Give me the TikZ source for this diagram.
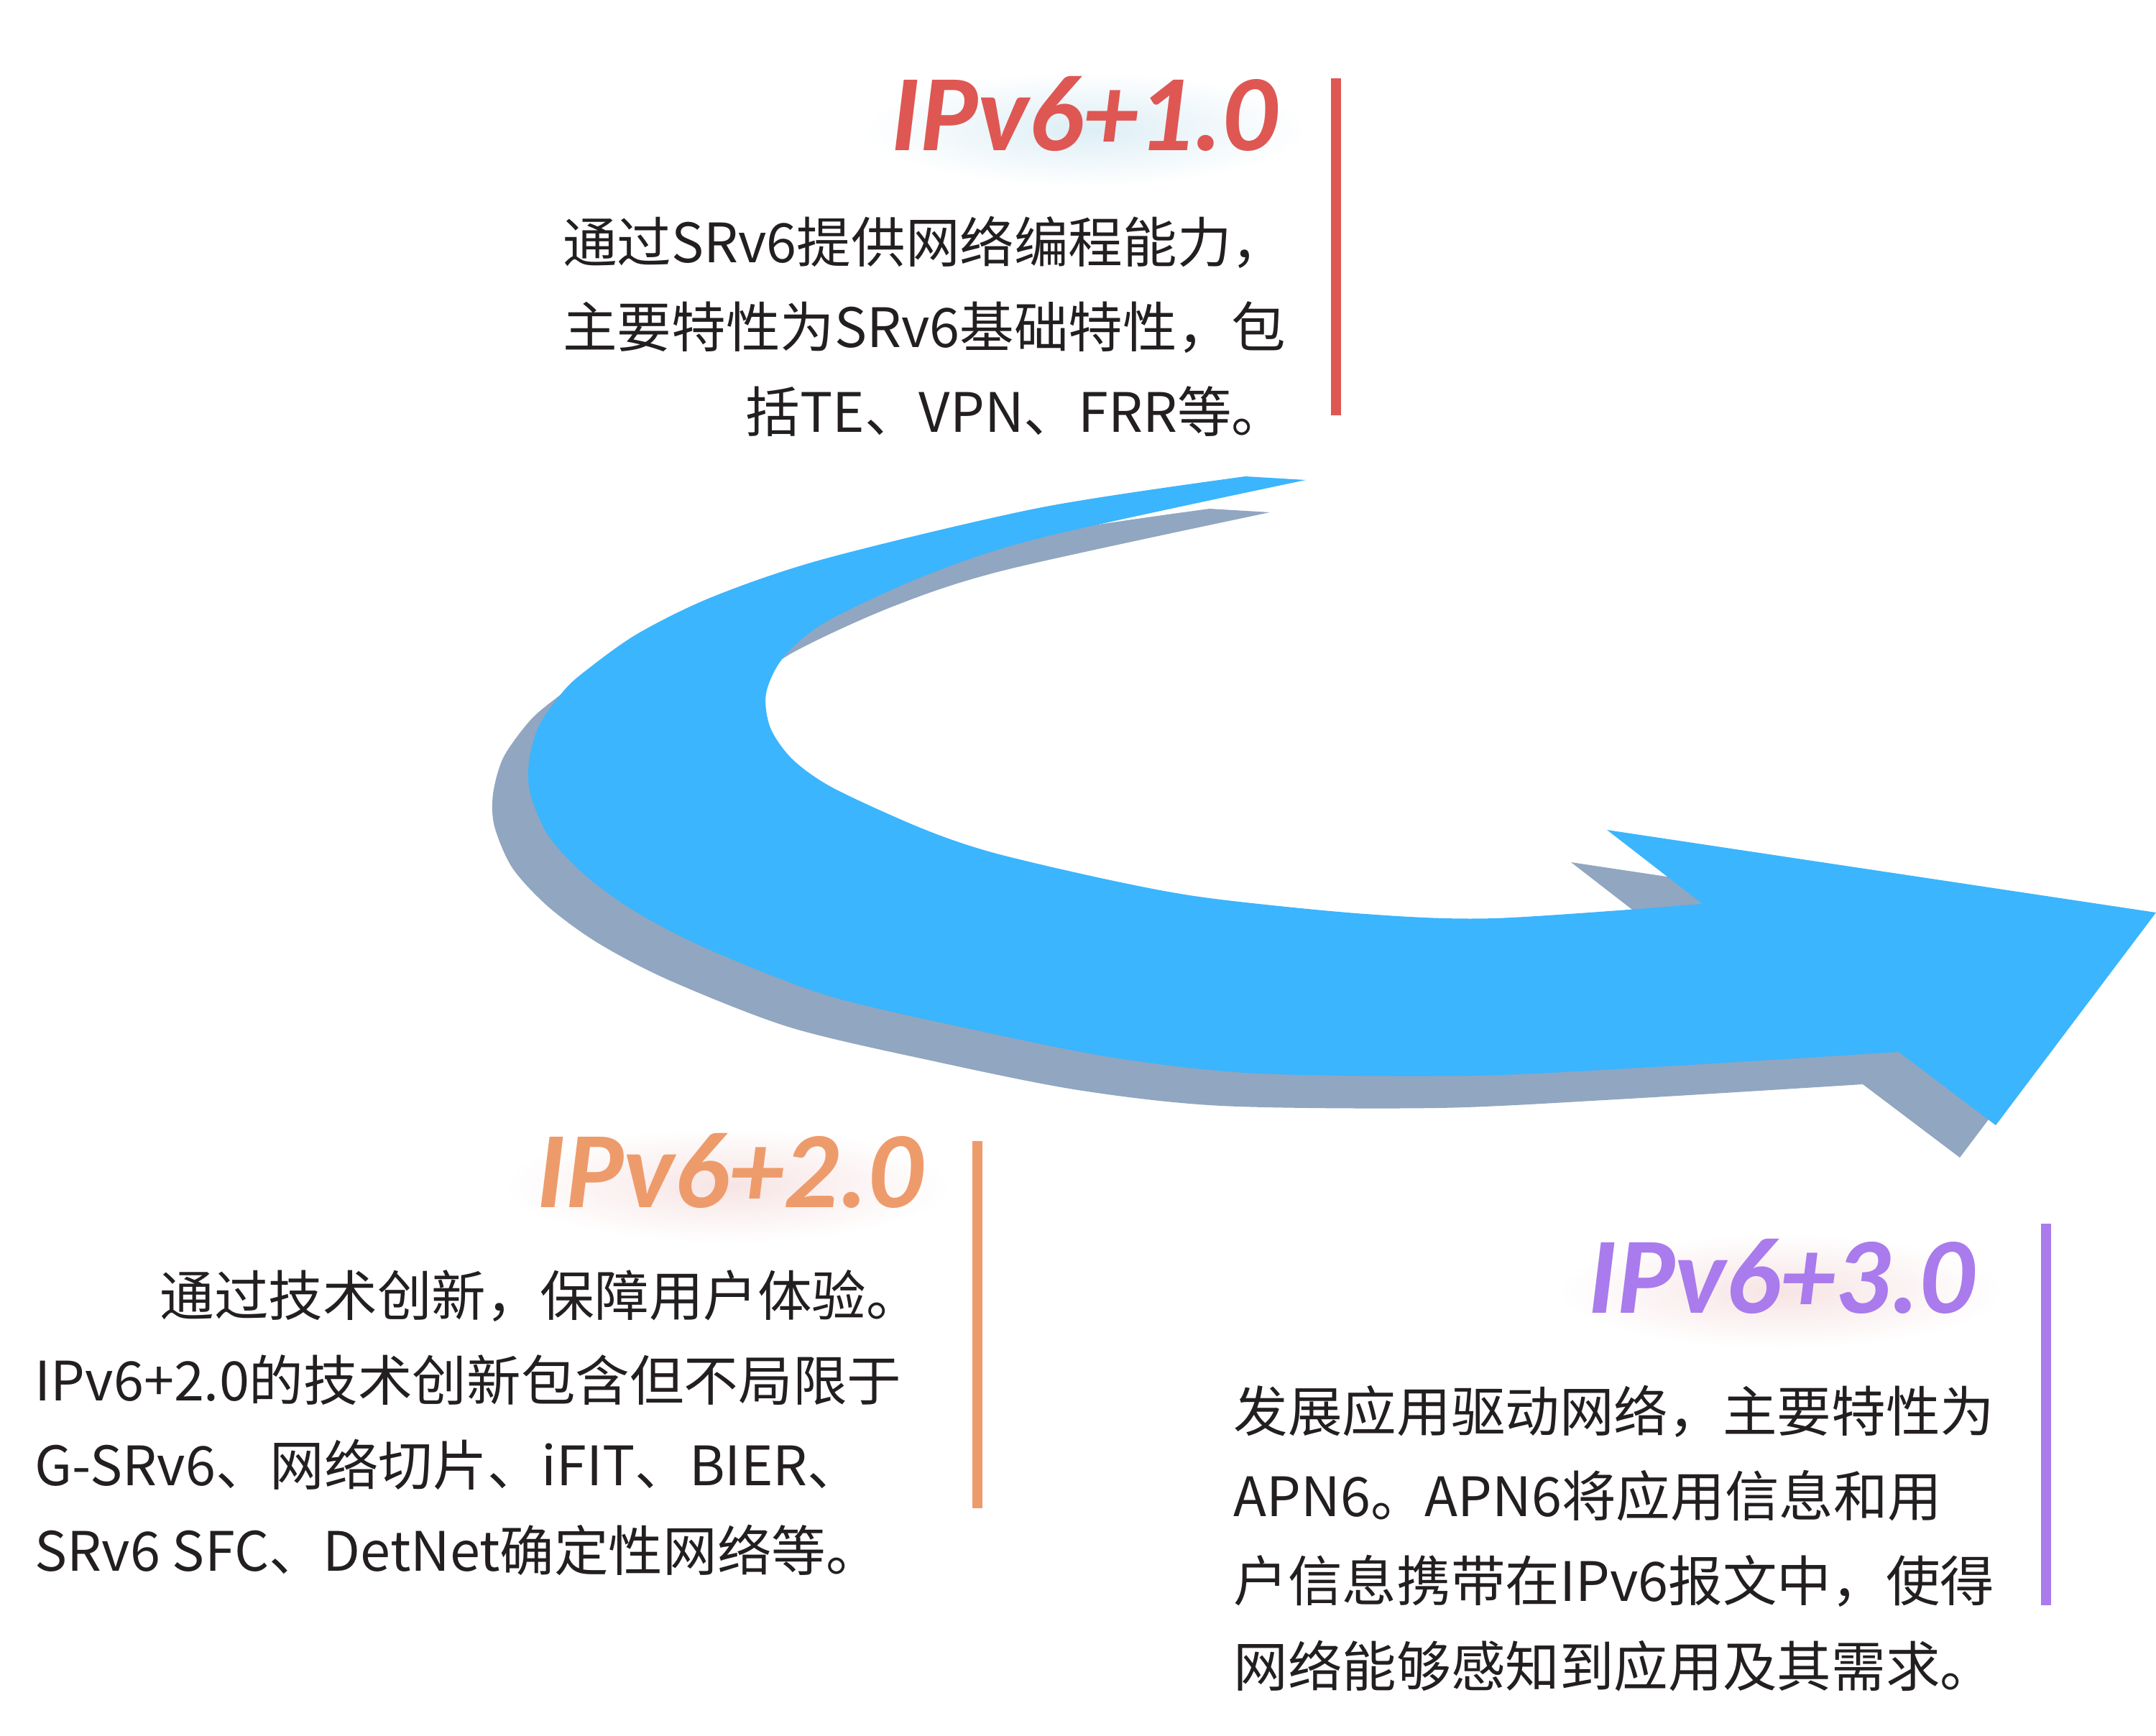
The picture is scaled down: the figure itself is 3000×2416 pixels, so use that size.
\documentclass[tikz,border=0pt]{standalone}
\usepackage{fontspec}
\setmainfont{Noto Sans CJK SC}
\newfontfamily\titlefont{Carlito}
\usepackage{xcolor}
\definecolor{arrowblue}{HTML}{3BB5FD}
\definecolor{arrowshade}{HTML}{91A6C0}
\definecolor{verred}{HTML}{DE5753}
\definecolor{verorange}{HTML}{EE9B6C}
\definecolor{verpurple}{HTML}{A97BEC}
\definecolor{glowblue}{HTML}{DDEEF5}
\definecolor{glowpink}{HTML}{F7E4E4}
\definecolor{bodytext}{HTML}{231F20}

\begin{document}
\begin{tikzpicture}[x=0.01cm, y=-0.01cm,
            version/.style={inner sep=0pt, font=\titlefont\bfseries\itshape\fontsize{43pt}{43pt}\selectfont},
            desc/.style={inner sep=0pt, text=bodytext, font=\fontsize{21.5pt}{33.6pt}\selectfont},
            bar/.style={line width=4pt},
        ]
            \useasboundingbox (0,0) rectangle (3000,2416);
            % curved arrow and its shadow
            \foreach \col/\dx/\dy in {arrowshade/-50/45, arrowblue/0/0} {
                \fill[\col, shift={(\dx,\dy)}] (2369,1258) -- (2236,1155) -- (3000,1270) -- (2777,1566) -- (2642,1464)
                    -- plot[smooth, tension=0.5] coordinates {(2642,1464) (2300,1485) (2050,1497) (1750,1494)
                        (1550,1472) (1350,1432) (1150,1385) (983,1320) (883,1268) (813,1217) (763,1163)
                        (738,1105) (736,1060) (750,1010) (783,963) (813,935) (887,882) (993,830)
                        (1150,777) (1450,706) (1733,663)}
                    -- (1817,668)
                    -- plot[smooth, tension=0.5] coordinates {(1817,668) (1450,748) (1290,800) (1150,865)
                        (1090,915) (1066,965) (1072,1013) (1103,1057) (1160,1097) (1283,1153)
                        (1383,1187) (1550,1226) (1683,1250) (1900,1272) (2080,1278) (2369,1258)}
                    -- cycle;
            }
            % soft glow behind the version titles
            \shade[inner color=glowblue, outer color=white] (1510,180) ellipse (310 and 80);
            \shade[inner color=glowpink, outer color=white] (1012,1650) ellipse (310 and 80);
            \shade[inner color=glowpink, outer color=white] (2478,1797) ellipse (310 and 80);
            \node[version, text=verred, anchor=base east] (v1) at (1778,210) {IPv6+1.0};
            \node[version, text=verorange, anchor=base east] (v2) at (1285,1680) {IPv6+2.0};
            \node[version, text=verpurple, anchor=base east] (v3) at (2748,1827) {IPv6+3.0};
            \draw[bar, verred] (1859,109) -- (1859,578);
            \draw[bar, verorange] (1360,1588) -- (1360,2099);
            \draw[bar, verpurple] (2847,1703) -- (2847,2234);
            \node[desc, align=right, anchor=base east] (d1) at (1790,602)
                {通过SRv6提供网络编程能力，\\主要特性为SRv6基础特性，包\\括TE、VPN、FRR等。};
            \node[desc, align=left, anchor=base west] (d2) at (48,2186)
                {\hspace*{2.3em}通过技术创新，保障用户体验。\\IPv6+2.0的技术创新包含但不局限于\\G-SRv6、网络切片、iFIT、BIER、\\SRv6 SFC、DetNet确定性网络等。};
            \node[desc, align=left, anchor=base west] (d3) at (1716,2347)
                {发展应用驱动网络，主要特性为\\APN6。APN6将应用信息和用\\户信息携带在IPv6报文中，使得\\网络能够感知到应用及其需求。};
        \end{tikzpicture}
\end{document}
